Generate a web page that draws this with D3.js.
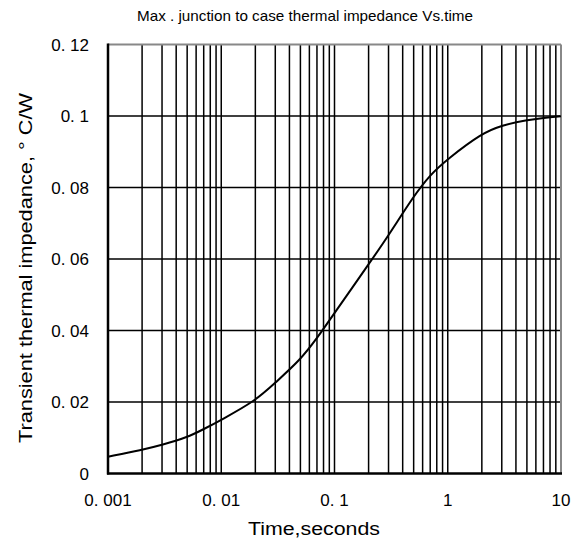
<!DOCTYPE html>
<html><head><meta charset="utf-8">
<script src="https://cdn.jsdelivr.net/npm/d3@7"></script>
<style>body{margin:0;background:#fff}svg{display:block}text{font-family:"Liberation Sans",Arial,sans-serif;fill:#000}</style>
</head><body><svg id="c" width="579" height="543"></svg>
<script>
const timeSeconds = [0.001,0.002,0.003,0.005,0.007,0.01,0.02,0.03,0.05,0.07,0.1,0.2,0.3,0.5,0.7,1,2,3,5,7,10];
const impedance   = [0.0047,0.0066,0.0080,0.0101,0.0124,0.0150,0.0203,0.0254,0.0318,0.0378,0.0449,0.0585,0.0666,0.0776,0.0836,0.0880,0.0952,0.0974,0.0989,0.0995,0.0999];
const xTickValues = [0.001,0.01,0.1,1,10];
const xTickLabels = ["0. 001","0. 01","0. 1","1","10"];
const yTickValues = [0,0.02,0.04,0.06,0.08,0.1,0.12];
const yTickLabels = ["0","0. 02","0. 04","0. 06","0. 08","0. 1","0. 12"];
const titleText = "Max . junction to case thermal impedance Vs.time";
const xTitle = "Time,seconds";
const yTitle = "Transient thermal impedance, \u00B0  C/W";

const svg = d3.select("#c");
const L=108, R=561, T=44.5, B=473.5;
const x = d3.scaleLog().domain([0.001,10]).range([L,R]);
const y = d3.scaleLinear().domain([0,0.12]).range([B,T]);

const vgrid = [];
for (let e=-3;e<1;e++) for (let k=1;k<=9;k++) vgrid.push(k*Math.pow(10,e));
const g = svg.append("g");
g.selectAll("line.v").data(vgrid.filter(v=>v>0.001)).join("line")
  .attr("x1",d=>x(d)).attr("x2",d=>x(d)).attr("y1",T).attr("y2",B)
  .attr("stroke","#000").attr("stroke-width",1.5);
g.selectAll("line.h").data(yTickValues.filter(v=>v>0&&v<0.12)).join("line")
  .attr("x1",L).attr("x2",R).attr("y1",d=>y(d)).attr("y2",d=>y(d))
  .attr("stroke","#000").attr("stroke-width",1.5);

svg.append("line").attr("x1",L).attr("x2",R).attr("y1",T).attr("y2",T).attr("stroke","#888").attr("stroke-width",2);
svg.append("line").attr("x1",R).attr("x2",R).attr("y1",T).attr("y2",B).attr("stroke","#888").attr("stroke-width",2);
svg.append("line").attr("x1",L).attr("x2",L).attr("y1",T-1).attr("y2",B+1).attr("stroke","#000").attr("stroke-width",2.5);
svg.append("line").attr("x1",L-1).attr("x2",R+1).attr("y1",B).attr("y2",B).attr("stroke","#000").attr("stroke-width",2.5);

const data = timeSeconds.map((t,i)=>[t,impedance[i]]);
svg.append("path").datum(data)
  .attr("d", d3.line().x(d=>x(d[0])).y(d=>y(d[1])).curve(d3.curveBasis))
  .attr("fill","none").attr("stroke","#000").attr("stroke-width",2);

svg.selectAll("text.xt").data(xTickValues).join("text")
  .attr("x",d=>x(d)).attr("y",506).attr("text-anchor","middle")
  .attr("font-size",17).text((d,i)=>xTickLabels[i]);
svg.selectAll("text.yt").data(yTickValues).join("text")
  .attr("x",89).attr("y",d=>y(d)).attr("dy","0.36em").attr("text-anchor","end")
  .attr("font-size",17).text((d,i)=>yTickLabels[i]);

svg.append("text").attr("x",305).attr("y",21).attr("text-anchor","middle")
  .attr("font-size",15).attr("textLength",336).attr("lengthAdjust","spacingAndGlyphs").text(titleText);
svg.append("text").attr("x",314).attr("y",535).attr("text-anchor","middle")
  .attr("font-size",18).attr("textLength",132).attr("lengthAdjust","spacingAndGlyphs").text(xTitle);
svg.append("text").attr("transform","translate(32,268) rotate(-90)").attr("text-anchor","middle")
  .attr("font-size",18).attr("textLength",350).attr("lengthAdjust","spacingAndGlyphs").text(yTitle);
</script></body></html>
